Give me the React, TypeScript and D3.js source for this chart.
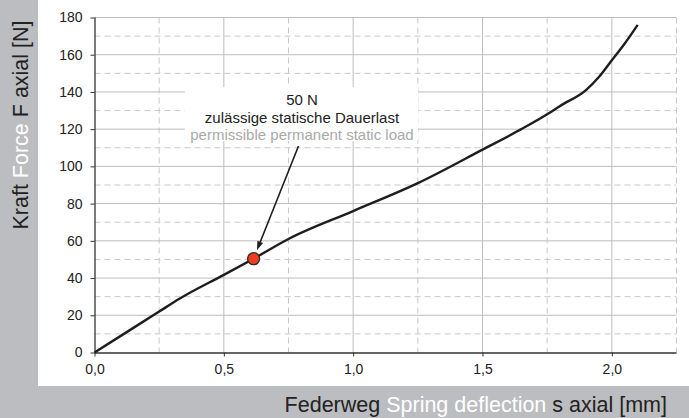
import React, { useEffect, useRef } from "react";
import * as d3 from "d3";

// spring curve
const deflection = [0, 0.1, 0.25, 0.33, 0.5, 0.615, 0.75, 1.0, 1.25, 1.5, 1.65, 1.75, 1.8, 1.9, 1.95, 2.0, 2.05, 2.1];
const force = [0, 8.8, 22, 29, 41.7, 50.4, 61, 76, 91, 109, 120, 128, 132.5, 141, 148, 157, 166, 176];

const xTicks = [0, 0.5, 1.0, 1.5, 2.0];
const xMinor = [0.25, 0.75, 1.25, 1.75, 2.25];
const yTicks = [0, 20, 40, 60, 80, 100, 120, 140, 160, 180];
const yMinor = [10, 30, 50, 70, 90, 110, 130, 150, 170];

const loadPoint = { s: 0.615, f: 50.4 };
const annotationLines = ["50 N", "zulässige statische Dauerlast", "permissible permanent static load"];

const W = 689;
const H = 418;

const App: React.FC = () => {
    const svgRef = useRef<SVGSVGElement>(null);

    useEffect(() => {
        if (!svgRef.current) return;
        const svg = d3.select(svgRef.current);
        svg.selectAll("*").remove();

        const font = "Liberation Sans, Arial, Helvetica, sans-serif";
        const dark = "#222";

        // gray frame + white panel
        svg.append("rect").attr("width", W).attr("height", H).attr("fill", "#bcbdc0");
        svg.append("rect").attr("x", 38).attr("y", 0).attr("width", W - 38).attr("height", 386).attr("fill", "#fff");

        const x = d3.scaleLinear().domain([0, 2.25]).range([94.5, 676.5]);
        const y = d3.scaleLinear().domain([0, 180]).range([352.5, 17.5]);

        const g = svg.append("g");

        // grid
        g.selectAll(".vmin").data(xMinor).enter().append("line")
            .attr("x1", d => x(d)).attr("x2", d => x(d))
            .attr("y1", y(180)).attr("y2", y(0))
            .attr("stroke", "#c8c8c8").attr("stroke-dasharray", "6,4");
        g.selectAll(".hmin").data(yMinor).enter().append("line")
            .attr("x1", x(0)).attr("x2", x(2.25))
            .attr("y1", d => y(d)).attr("y2", d => y(d))
            .attr("stroke", "#c8c8c8").attr("stroke-dasharray", "6,4");
        g.selectAll(".vmaj").data(xTicks.slice(1)).enter().append("line")
            .attr("x1", d => x(d)).attr("x2", d => x(d))
            .attr("y1", y(180)).attr("y2", y(0))
            .attr("stroke", "#bdbdbd");
        g.selectAll(".hmaj").data(yTicks.slice(1)).enter().append("line")
            .attr("x1", x(0)).attr("x2", x(2.25))
            .attr("y1", d => y(d)).attr("y2", d => y(d))
            .attr("stroke", "#bdbdbd");

        // axes
        const yAxis = g.append("g")
            .attr("transform", `translate(${x(0)},0)`)
            .call(d3.axisLeft(y).tickValues(yTicks).tickSize(4).tickPadding(8).tickFormat(d3.format("d")));
        const xAxis = g.append("g")
            .attr("transform", `translate(0,${y(0)})`)
            .call(d3.axisBottom(x).tickValues(xTicks).tickSize(4).tickPadding(8).tickFormat(d => d3.format(".1f")(d as number).replace(".", ",")));
        [yAxis, xAxis].forEach(a => {
            a.select(".domain").attr("stroke", "#333").attr("stroke-width", 1.3);
            a.selectAll(".tick line").attr("stroke", "#333");
            a.selectAll(".tick text")
                .attr("fill", dark)
                .attr("font-family", font)
                .attr("font-size", 14);
        });
        yAxis.select(".domain").attr("d", `M0.5,${y(180)}V${y(0)}`);
        xAxis.select(".domain").attr("d", `M${x(0)},0.5H${x(2.25)}`);

        // annotation box
        const cx = 302;
        g.append("rect")
            .attr("x", 185).attr("y", 87).attr("width", 233).attr("height", 54)
            .attr("fill", "#fff");
        annotationLines.forEach((t, i) => {
            g.append("text")
                .attr("x", cx).attr("y", 105 + i * 17.5)
                .attr("text-anchor", "middle")
                .attr("font-family", font)
                .attr("font-size", 15)
                .attr("fill", i === 2 ? "#a9a9a9" : dark)
                .text(t);
        });

        // curve
        const line = d3.line<number>()
            .x((_, i) => x(deflection[i]))
            .y(d => y(d))
            .curve(d3.curveMonotoneX);
        g.append("path")
            .datum(force)
            .attr("d", line)
            .attr("fill", "none")
            .attr("stroke", "#1e1e1e")
            .attr("stroke-width", 2.4)
            .attr("stroke-linejoin", "round");

        // arrow to the load point
        const px = x(loadPoint.s);
        const py = y(loadPoint.f);
        const sx = 298.5, sy = 146;
        const ang = Math.atan2(py - sy, px - sx);
        const tipX = px + Math.cos(ang + Math.PI) * 9;
        const tipY = py + Math.sin(ang + Math.PI) * 9;
        const headLen = 9, headW = 3;
        const bx = tipX - Math.cos(ang) * headLen;
        const by = tipY - Math.sin(ang) * headLen;
        g.append("line")
            .attr("x1", sx).attr("y1", sy)
            .attr("x2", bx).attr("y2", by)
            .attr("stroke", "#1e1e1e").attr("stroke-width", 1.6);
        g.append("path")
            .attr("d", `M${tipX},${tipY}L${bx + Math.sin(ang) * headW},${by - Math.cos(ang) * headW}L${bx - Math.sin(ang) * headW},${by + Math.cos(ang) * headW}Z`)
            .attr("fill", "#1e1e1e");

        g.append("circle")
            .attr("cx", px).attr("cy", py).attr("r", 6)
            .attr("fill", "#ee3d1f")
            .attr("stroke", "#2a2a2a")
            .attr("stroke-width", 1.3);

        // axis titles: German dark, English white
        const yTitle = svg.append("text")
            .attr("transform", `translate(28,125) rotate(-90)`)
            .attr("text-anchor", "middle")
            .attr("font-family", font)
            .attr("font-size", 21.5)
            .attr("fill", dark);
        yTitle.append("tspan").text("Kraft ");
        yTitle.append("tspan").attr("fill", "#fff").text("Force");
        yTitle.append("tspan").text(" F axial [N]");

        const xTitle = svg.append("text")
            .attr("x", 667).attr("y", 411.5)
            .attr("text-anchor", "end")
            .attr("font-family", font)
            .attr("font-size", 21.5)
            .attr("fill", dark);
        xTitle.append("tspan").text("Federweg ");
        xTitle.append("tspan").attr("fill", "#fff").text("Spring deflection");
        xTitle.append("tspan").text(" s axial [mm]");
    }, []);

    return (
        <svg
            ref={svgRef}
            width={W}
            height={H}
            style={{ position: "absolute", left: 0, top: 0, display: "block" }}
        ></svg>
    );
};

export default App;
